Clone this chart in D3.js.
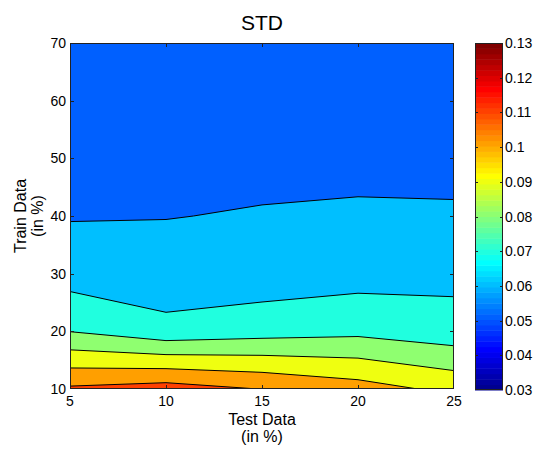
<!DOCTYPE html>
<html>
<head>
<meta charset="utf-8">
<script src="https://cdn.jsdelivr.net/npm/d3@7"></script>
<style>
  body { margin: 0; background: #fff; }
  svg text { font-family: Arial, "Liberation Sans", Helvetica, sans-serif; fill: #000; }
</style>
</head>
<body>
<svg id="chart" width="535" height="449"></svg>
<script>
// grid the std values were measured on
const testPct = [5, 10, 15, 20, 25];
const trainPct = [10, 20, 30, 40, 50, 60, 70];

// std per train row (bottom -> top), one value per test column
const stdRows = [
  [0.1116, 0.1145, 0.1098, 0.1043, 0.0974],
  [0.0798, 0.0734, 0.0759, 0.0776, 0.0742],
  [0.0656, 0.0631, 0.0643, 0.0661, 0.0672],
  [0.0594, 0.0598, 0.0605, 0.0608, 0.0606],
  [0.0570, 0.0575, 0.0579, 0.0584, 0.0585],
  [0.0555, 0.0560, 0.0565, 0.0568, 0.0570],
  [0.0545, 0.0550, 0.0552, 0.0555, 0.0556]
];

const levels = [0.05, 0.06, 0.07, 0.08, 0.09, 0.10, 0.11];
const xTicks = [5, 10, 15, 20, 25];
const yTicks = [10, 20, 30, 40, 50, 60, 70];
const cbTicks = [0.03, 0.04, 0.05, 0.06, 0.07, 0.08, 0.09, 0.10, 0.11, 0.12, 0.13];
const cLim = [0.03, 0.13];

const svg = d3.select("#chart");
const L = 70, R = 454, T = 43, B = 389;
const cbL = 475, cbR = 503;

const x = d3.scaleLinear().domain([5, 25]).range([L, R]);
const y = d3.scaleLinear().domain([10, 70]).range([B, T]);

// matlab jet(64)
const u = k => (k < 1 || k > 47) ? 0 : k <= 16 ? k / 16 : k <= 31 ? 1 : (48 - k) / 16;
const jet = i => d3.rgb(255 * u(i - 24), 255 * u(i - 8), 255 * u(i + 8));
const cIdx = d3.scaleLinear().domain(cLim).range([0, 64]);
const colorOf = v => jet(Math.min(64, Math.floor(cIdx(v)) + 1));

// contour grid coords -> data -> pixels
const gx = d3.scaleLinear().domain([0.5, testPct.length - 0.5]).range([x(testPct[0]), x(testPct[testPct.length - 1])]);
const gy = d3.scaleLinear().domain([0.5, trainPct.length - 0.5]).range([y(trainPct[0]), y(trainPct[trainPct.length - 1])]);
const path = d3.geoPath(d3.geoTransform({
  point: function(px, py) { this.stream.point(gx(px), gy(py)); }
}));

const flat = stdRows.flat();
const contours = d3.contours().size([testPct.length, trainPct.length]).thresholds(levels)(flat);

svg.append("clipPath").attr("id", "plotclip")
  .append("rect").attr("x", L).attr("y", T).attr("width", R - L).attr("height", B - T);

const plot = svg.append("g").attr("clip-path", "url(#plotclip)");

plot.selectAll("path.fill")
  .data(contours)
  .join("path")
  .attr("class", "fill")
  .attr("d", path)
  .attr("fill", d => colorOf(d.value + 0.0005))
  .attr("stroke", "none");

plot.selectAll("path.line")
  .data(contours.slice(1))
  .join("path")
  .attr("class", "line")
  .attr("d", path)
  .attr("fill", "none")
  .attr("stroke", "#000")
  .attr("stroke-width", 1);

// box + inward ticks on all four sides
const tk = 4;
svg.append("rect")
  .attr("x", L + 0.5).attr("y", T + 0.5)
  .attr("width", R - L - 1).attr("height", B - T - 1)
  .attr("fill", "none").attr("stroke", "#222").attr("stroke-width", 1);

const xInner = xTicks.slice(1, -1);
svg.selectAll("line.xtb").data(xInner).join("line")
  .attr("x1", d => Math.round(x(d)) + 0.5).attr("x2", d => Math.round(x(d)) + 0.5)
  .attr("y1", B).attr("y2", B - tk).attr("stroke", "#222");
svg.selectAll("line.xtt").data(xInner).join("line")
  .attr("x1", d => Math.round(x(d)) + 0.5).attr("x2", d => Math.round(x(d)) + 0.5)
  .attr("y1", T).attr("y2", T + tk).attr("stroke", "#222");
const yInner = yTicks.slice(1, -1);
svg.selectAll("line.ytl").data(yInner).join("line")
  .attr("y1", d => Math.round(y(d)) + 0.5).attr("y2", d => Math.round(y(d)) + 0.5)
  .attr("x1", L).attr("x2", L + tk).attr("stroke", "#222");
svg.selectAll("line.ytr").data(yInner).join("line")
  .attr("y1", d => Math.round(y(d)) + 0.5).attr("y2", d => Math.round(y(d)) + 0.5)
  .attr("x1", R).attr("x2", R - tk).attr("stroke", "#222");

svg.selectAll("text.xl").data(xTicks).join("text")
  .attr("x", d => x(d)).attr("y", 406)
  .attr("text-anchor", "middle").attr("font-size", 14)
  .text(d => d);
svg.selectAll("text.yl").data(yTicks).join("text")
  .attr("x", 66).attr("y", d => y(d) + 5)
  .attr("text-anchor", "end").attr("font-size", 14)
  .text(d => d);

// title and axis labels
svg.append("text").attr("x", (L + R) / 2).attr("y", 30)
  .attr("text-anchor", "middle").attr("font-size", 21).text("STD");
svg.append("text").attr("x", (L + R) / 2).attr("y", 425)
  .attr("text-anchor", "middle").attr("font-size", 16).text("Test Data");
svg.append("text").attr("x", (L + R) / 2).attr("y", 442)
  .attr("text-anchor", "middle").attr("font-size", 16).text("(in %)");
const yl = svg.append("g").attr("transform", `translate(0,${(T + B) / 2}) rotate(-90)`);
yl.append("text").attr("x", 0).attr("y", 26)
  .attr("text-anchor", "middle").attr("font-size", 16).text("Train Data");
yl.append("text").attr("x", 0).attr("y", 43)
  .attr("text-anchor", "middle").attr("font-size", 16).text("(in %)");

// colorbar
const cbY = d3.scaleLinear().domain(cLim).range([B + 1, T]);
const steps = d3.range(64);
const stepV = i => cLim[0] + (cLim[1] - cLim[0]) * i / 64;
svg.selectAll("rect.cb").data(steps).join("rect")
  .attr("x", cbL).attr("width", cbR - cbL)
  .attr("y", i => cbY(stepV(i + 1)))
  .attr("height", i => cbY(stepV(i)) - cbY(stepV(i + 1)) + 0.5)
  .attr("fill", i => jet(i + 1));
svg.append("rect")
  .attr("x", cbL + 0.5).attr("y", T + 0.5)
  .attr("width", cbR - cbL - 1).attr("height", B + 1 - T - 1)
  .attr("fill", "none").attr("stroke", "#222");
const cbInner = cbTicks.slice(1, -1);
svg.selectAll("line.cbl").data(cbInner).join("line")
  .attr("y1", d => Math.round(cbY(d)) + 0.5).attr("y2", d => Math.round(cbY(d)) + 0.5)
  .attr("x1", cbL).attr("x2", cbL + 3).attr("stroke", "#222");
svg.selectAll("line.cbr").data(cbInner).join("line")
  .attr("y1", d => Math.round(cbY(d)) + 0.5).attr("y2", d => Math.round(cbY(d)) + 0.5)
  .attr("x1", cbR).attr("x2", cbR - 3).attr("stroke", "#222");
svg.selectAll("text.cbt").data(cbTicks).join("text")
  .attr("x", cbR + 2).attr("y", d => cbY(d) + 5)
  .attr("font-size", 14)
  .text(d => String(+d.toFixed(2)));
</script>
</body>
</html>
